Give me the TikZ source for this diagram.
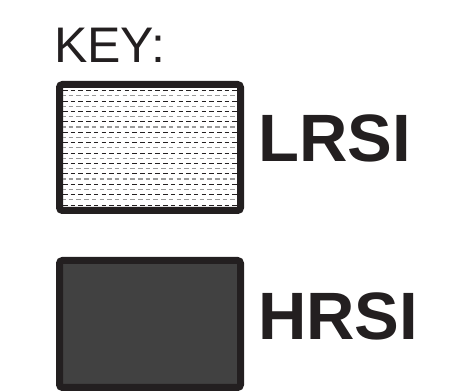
\documentclass[tikz,border=0pt]{standalone}
\usepackage{fontspec}
\setmainfont{Liberation Sans}
\definecolor{keyblack}{HTML}{231F20}
\definecolor{hrsigray}{HTML}{414141}
\definecolor{dashgray}{HTML}{9A9A9A}
\begin{document}
\begin{tikzpicture}[x=1pt, y=1pt,
    tilebox/.style={draw=keyblack, line width=7pt, rounded corners=3pt,
        minimum width=181pt, minimum height=126pt, inner sep=0pt},
    tilelabel/.style={anchor=base west, inner sep=0pt, text=keyblack,
        font=\fontsize{67}{67}\selectfont\bfseries}]
    \useasboundingbox (0,0) rectangle (450,391);

    % Title
    \node[anchor=base west, inner sep=0pt, text=keyblack,
        font=\fontsize{50}{50}\selectfont] (keytitle) at (54,328) {KEY:};

    % LRSI tile
    \node[tilebox, fill=white] (lrsibox) at (150,243.5) {};
    \foreach \k in {0,...,22} {
        \pgfmathsetmacro\rowy{300.3-5.2*\k}
        \ifodd\k
            \draw[dashgray, line width=1.2pt, dash pattern=on 4.5pt off 3.2pt, dash phase=2pt] (63,\rowy) -- (237,\rowy);
        \else
            \draw[keyblack, line width=1pt, dash pattern=on 4.5pt off 3.2pt] (63,\rowy) -- (237,\rowy);
        \fi
    }
    \node[tilelabel] (lrsilabel) at (258,229) {LRSI};

    % HRSI tile
    \node[tilebox, fill=hrsigray, minimum height=127pt] (hrsibox) at (150,67) {};
    \node[tilelabel] (hrsilabel) at (258,51) {HRSI};
\end{tikzpicture}
\end{document}
